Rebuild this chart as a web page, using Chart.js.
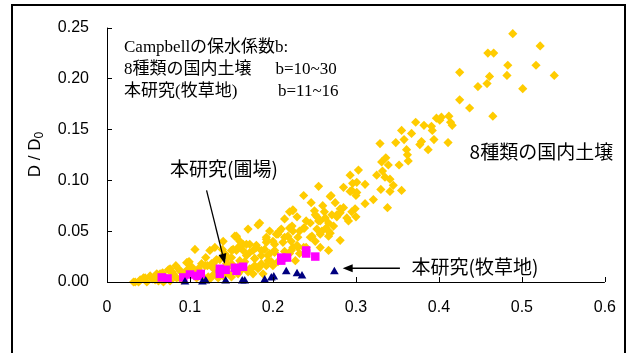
<!DOCTYPE html>
<html>
<head>
<meta charset="utf-8">
<script src="https://cdn.jsdelivr.net/npm/chart.js@4/dist/chart.umd.min.js"></script>
<style>
  body { margin: 0; background: #fff; }
  #wrap { position: relative; width: 632px; height: 353px; overflow: hidden; }
  #frame { position: absolute; left: 11px; top: 4px; width: 615px; height: 400px; border: 2px solid #000; box-sizing: border-box; pointer-events: none; }
</style>
</head>
<body>
<div id="wrap">
  <canvas id="chart" width="632" height="353"></canvas>
  <div id="frame"></div>
</div>
<script>
// 8種類の国内土壌 (yellow diamonds)
const soilPoints = [
    [0.489,0.244],[0.522,0.232],[0.459,0.225],[0.466,0.225],[0.483,0.213],[0.517,0.213],[0.425,0.206],[0.461,0.202],
    [0.482,0.203],[0.539,0.203],[0.458,0.195],[0.447,0.192],[0.501,0.190],[0.425,0.179],[0.437,0.171],[0.465,0.163],
    [0.403,0.162],[0.412,0.163],[0.414,0.157],[0.416,0.154],
    [0.372,0.157],[0.382,0.154],[0.391,0.153],[0.397,0.161],[0.401,0.159],[0.392,0.149],[0.355,0.149],[0.367,0.146],
    [0.358,0.140],[0.394,0.140],[0.348,0.137],[0.379,0.138],[0.377,0.135],[0.329,0.136],[0.387,0.130],[0.361,0.130],
    [0.362,0.125],[0.363,0.119],[0.336,0.122],[0.331,0.118],[0.339,0.115],[0.352,0.115],[0.303,0.110],[0.293,0.105],
    [0.325,0.105],[0.332,0.109],[0.335,0.103],[0.341,0.101],[0.311,0.096],[0.296,0.097],[0.345,0.095],[0.330,0.091],
    [0.341,0.089],[0.355,0.090],[0.295,0.090],[0.300,0.085],[0.321,0.081],[0.270,0.085],[0.311,0.077],[0.338,0.073],
    [0.285,0.073],[0.299,0.072],[0.281,0.068],[0.300,0.064],[0.277,0.064],[0.411,0.137],[0.301,0.088],
    [0.255,0.094],[0.237,0.085],[0.269,0.084],[0.293,0.089],[0.224,0.070],[0.229,0.064],[0.253,0.064],[0.281,0.072],
    [0.277,0.066],[0.291,0.060],[0.267,0.058],[0.264,0.053],[0.273,0.055],[0.269,0.048],[0.245,0.058],[0.237,0.053],
    [0.253,0.052],[0.223,0.055],[0.224,0.050],[0.210,0.052],[0.204,0.047],[0.218,0.045],[0.230,0.044],[0.247,0.045],
    [0.257,0.047],[0.281,0.041],[0.182,0.056],[0.170,0.052],[0.192,0.044],[0.200,0.040],[0.212,0.039],[0.229,0.036],
    [0.237,0.034],[0.257,0.034],[0.164,0.037],[0.180,0.034],[0.190,0.032],[0.202,0.031],[0.220,0.028],[0.227,0.021],
    [0.168,0.026],[0.178,0.023],[0.194,0.021],[0.200,0.016],[0.206,0.020],[0.184,0.015],[0.172,0.013],[0.176,0.008],
    [0.162,0.018],[0.188,0.008],
    [0.220,0.069],[0.257,0.060],[0.267,0.050],[0.289,0.063],[0.295,0.069],[0.301,0.098],[0.245,0.044],[0.224,0.034],
    [0.192,0.016],[0.170,0.010],[0.150,0.005],[0.128,0.007],[0.108,0.004],[0.068,0.000],[0.076,0.001],
    [0.032,0.000],[0.038,0.000],[0.044,0.004],[0.048,0.000],[0.052,0.006],[0.058,0.002],[0.064,0.008],[0.074,0.012],
    [0.080,0.008],[0.084,0.004],[0.088,0.011],[0.098,0.013],[0.106,0.032],[0.099,0.020],[0.119,0.024],[0.124,0.031],
    [0.121,0.016],[0.128,0.018],[0.140,0.040],[0.139,0.032],[0.146,0.024],[0.152,0.032],[0.156,0.044],[0.160,0.040],
    [0.164,0.031],[0.172,0.037],[0.176,0.031],[0.184,0.058],[0.192,0.039],[0.202,0.029],[0.208,0.050],
    [0.096,0.019],[0.076,0.013],[0.060,0.008],[0.046,0.004],[0.086,0.013],[0.102,0.015],[0.118,0.016],[0.126,0.018],
    [0.130,0.012],[0.156,0.031],[0.154,0.045],
    [0.040,0.002],[0.055,0.003],[0.062,0.001],[0.070,0.005],[0.090,0.002],[0.095,0.006],[0.104,0.009],[0.112,0.010],
    [0.116,0.005],[0.124,0.003],[0.134,0.004],[0.138,0.010],[0.145,0.014],[0.150,0.018],[0.158,0.008],[0.162,0.012],
    [0.166,0.020],[0.178,0.016],[0.186,0.026],[0.196,0.028],[0.214,0.030],[0.222,0.040],[0.232,0.050],[0.240,0.060],
    [0.250,0.070],[0.260,0.075],[0.246,0.078],[0.275,0.078],[0.285,0.093],[0.262,0.069],[0.214,0.062],[0.196,0.050],
    [0.136,0.022],[0.110,0.013],[0.067,0.009],[0.083,0.016],[0.142,0.028],
    [0.224,0.071],[0.251,0.066],[0.255,0.060],[0.263,0.063],[0.271,0.066],[0.156,0.045],[0.206,0.047],[0.220,0.053],
    [0.238,0.053],[0.259,0.050],[0.267,0.045],[0.214,0.044],[0.251,0.040],[0.192,0.042],[0.202,0.037],[0.180,0.036],
    [0.168,0.037],[0.158,0.034],[0.172,0.029],[0.186,0.031],[0.194,0.026],[0.222,0.031],[0.230,0.034],[0.240,0.034],
    [0.178,0.023],[0.186,0.018],[0.198,0.020],[0.150,0.024],[0.160,0.021],[0.174,0.013],[0.182,0.013],[0.267,0.031],
    [0.232,0.028],[0.034,0.000],[0.044,0.0035],[0.058,0.005],[0.078,0.010],[0.082,0.005],[0.098,0.0195],[0.126,0.015],
    [0.130,0.034],[0.122,0.005],[0.130,0.008],[0.150,0.031],[0.140,0.006],[0.146,0.009],[0.105,0.011],[0.093,0.009],
    [0.072,0.003],[0.114,0.018],[0.132,0.022],[0.144,0.018]
];

// 本研究(圃場) (magenta squares)
const fieldPoints = [
    [0.066,0.0045],[0.073,0.0035],[0.092,0.0045],[0.100,0.0074],[0.109,0.006],[0.113,0.008],[0.136,0.013],[0.136,0.008],
    [0.143,0.012],[0.154,0.014],[0.156,0.011],[0.164,0.015],[0.210,0.024],[0.210,0.021],[0.217,0.024],[0.240,0.031],
    [0.240,0.028],[0.251,0.025]
];

// 本研究(牧草地) (navy triangles)
const pasturePoints = [
    [0.094,0.000],[0.115,0.000],[0.119,0.001],[0.143,0.001],[0.163,0.001],[0.166,0.001],[0.190,0.002],[0.198,0.004],
    [0.201,0.005],[0.216,0.010],[0.229,0.008],[0.235,0.006],[0.274,0.010]
];

const xTicks = [0, 0.1, 0.2, 0.3, 0.4, 0.5, 0.6];
const yTicks = [0, 0.05, 0.10, 0.15, 0.20, 0.25];
const xLabels = ['0', '0.1', '0.2', '0.3', '0.4', '0.5', '0.6'];
const yLabels = ['0.00', '0.05', '0.10', '0.15', '0.20', '0.25'];

// text notes, anchored in data units
const blockFont = '17px "Liberation Serif", "Noto Sans CJK JP"';
const labelFont = '19px "Noto Sans CJK JP"';
const notes = [
    { text: 'Campbellの保水係数b:', x: 0.0205, y: 0.2308, font: blockFont },
    { text: '8種類の国内土壌', x: 0.0205, y: 0.2087, font: blockFont },
    { text: 'b=10~30', x: 0.203, y: 0.2087, font: blockFont },
    { text: '本研究(牧草地)', x: 0.0205, y: 0.1875, font: blockFont },
    { text: 'b=11~16', x: 0.206, y: 0.1875, font: blockFont },
    { text: '8種類の国内土壌', x: 0.437, y: 0.128, font: labelFont },
    { text: '本研究(圃場)', x: 0.076, y: 0.111, font: labelFont },
    { text: '本研究(牧草地)', x: 0.367, y: 0.0145, font: labelFont }
];
const arrows = [
    { from: [0.120, 0.090], to: [0.142, 0.018] },
    { from: [0.353, 0.0135], to: [0.284, 0.0135] }
];

const toXY = pts => pts.map(p => ({ x: p[0], y: p[1] }));

const overlay = {
    id: 'overlay',
    afterDatasetsDraw(chart) {
        const ctx = chart.ctx;
        const xs = chart.scales.x, ys = chart.scales.y;
        const left = xs.left, bottom = ys.bottom;
        ctx.save();
        // axis lines and inward ticks
        ctx.strokeStyle = '#000';
        ctx.lineWidth = 1;
        ctx.beginPath();
        ctx.moveTo(left + 0.5, ys.top);
        ctx.lineTo(left + 0.5, bottom + 0.5);
        ctx.lineTo(xs.right, bottom + 0.5);
        xTicks.forEach(v => {
            const px = Math.round(xs.getPixelForValue(v)) + 0.5;
            ctx.moveTo(px, bottom);
            ctx.lineTo(px, bottom - 5);
        });
        yTicks.forEach(v => {
            const py = Math.round(ys.getPixelForValue(v)) + 0.5;
            ctx.moveTo(left, py);
            ctx.lineTo(left + 5, py);
        });
        ctx.stroke();

        // notes
        ctx.fillStyle = '#000';
        ctx.textBaseline = 'middle';
        ctx.textAlign = 'left';
        notes.forEach(n => {
            ctx.font = n.font;
            ctx.fillText(n.text, xs.getPixelForValue(n.x), ys.getPixelForValue(n.y));
        });

        // arrows
        arrows.forEach(a => {
            const x1 = xs.getPixelForValue(a.from[0]), y1 = ys.getPixelForValue(a.from[1]);
            const x2 = xs.getPixelForValue(a.to[0]), y2 = ys.getPixelForValue(a.to[1]);
            const ang = Math.atan2(y2 - y1, x2 - x1);
            ctx.beginPath();
            ctx.moveTo(x1, y1);
            ctx.lineTo(x2 - 8 * Math.cos(ang), y2 - 8 * Math.sin(ang));
            ctx.lineWidth = 1.3;
            ctx.stroke();
            ctx.beginPath();
            ctx.moveTo(x2, y2);
            ctx.lineTo(x2 - 10 * Math.cos(ang) + 4 * Math.sin(ang), y2 - 10 * Math.sin(ang) - 4 * Math.cos(ang));
            ctx.lineTo(x2 - 10 * Math.cos(ang) - 4 * Math.sin(ang), y2 - 10 * Math.sin(ang) + 4 * Math.cos(ang));
            ctx.closePath();
            ctx.fill();
        });

        // y axis title D/D0
        ctx.translate(35, (ys.top + ys.bottom) / 2);
        ctx.rotate(-Math.PI / 2);
        ctx.textAlign = 'center';
        ctx.font = '17px "Liberation Sans", Arial';
        ctx.fillText('D / D', -3, 0);
        const w = ctx.measureText('D / D').width;
        ctx.font = '12px "Liberation Sans", Arial';
        ctx.textAlign = 'left';
        ctx.fillText('0', -3 + w / 2, 5);
        ctx.restore();
    }
};

new Chart(document.getElementById('chart'), {
    type: 'scatter',
    data: {
        datasets: [
            {
                label: '本研究(牧草地)',
                data: toXY(pasturePoints),
                pointStyle: 'triangle',
                radius: 5,
                backgroundColor: '#000080',
                borderColor: '#000080',
                borderWidth: 0,
                clip: false,
                order: 1
            },
            {
                label: '本研究(圃場)',
                data: toXY(fieldPoints),
                pointStyle: 'rect',
                radius: 6,
                backgroundColor: '#ff00ff',
                borderColor: '#ff00ff',
                borderWidth: 0,
                clip: false,
                order: 2
            },
            {
                label: '8種類の国内土壌',
                data: toXY(soilPoints),
                pointStyle: 'rectRot',
                radius: 4.6,
                backgroundColor: '#ffcc00',
                borderColor: '#ffcc00',
                borderWidth: 0,
                clip: false,
                order: 3
            }
        ]
    },
    options: {
        responsive: false,
        animation: false,
        layout: { padding: { left: 0, top: 22, right: 27, bottom: 0 } },
        plugins: {
            legend: { display: false },
            tooltip: { enabled: false }
        },
        scales: {
            x: {
                type: 'linear',
                min: 0,
                max: 0.6,
                afterFit: s => { s.height = 71; },
                afterBuildTicks: s => { s.ticks = xTicks.map(v => ({ value: v })); },
                grid: { display: false, drawTicks: false },
                border: { display: false },
                ticks: {
                    padding: 16,
                    color: '#000',
                    font: { family: '"Liberation Sans", Arial', size: 16 },
                    callback: (v) => xLabels[xTicks.findIndex(t => Math.abs(t - v) < 1e-9)]
                }
            },
            y: {
                type: 'linear',
                min: 0,
                max: 0.25,
                afterFit: s => { s.width = 107; },
                afterBuildTicks: s => { s.ticks = yTicks.map(v => ({ value: v })); },
                grid: { display: false, drawTicks: false },
                border: { display: false },
                ticks: {
                    padding: 18,
                    color: '#000',
                    font: { family: '"Liberation Sans", Arial', size: 16 },
                    callback: (v) => yLabels[yTicks.findIndex(t => Math.abs(t - v) < 1e-9)]
                }
            }
        }
    },
    plugins: [overlay]
});
</script>
</body>
</html>
